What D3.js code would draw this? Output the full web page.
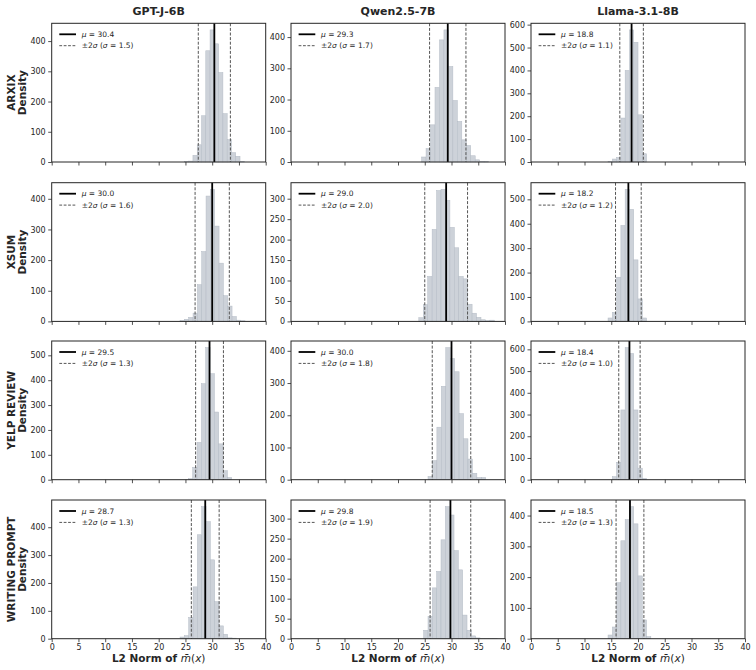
<!DOCTYPE html>
<html>
<head>
<meta charset="utf-8">
<script src="https://cdnjs.cloudflare.com/ajax/libs/d3/7.8.5/d3.min.js"></script>
<style>
  body { margin: 0; background: #fff; }
  svg { font-family: "DejaVu Sans", sans-serif; }
</style>
</head>
<body>
<svg id="chart" width="756" height="670"></svg>
<script>
// columns = models, rows = datasets
const models = ["GPT-J-6B", "Qwen2.5-7B", "Llama-3.1-8B"];
const datasets = ["ARXIX", "XSUM", "YELP REVIEW", "WRITING PROMPT"];

const means = [
  [30.4, 29.3, 18.8],
  [30.0, 29.0, 18.2],
  [29.5, 30.0, 18.4],
  [28.7, 29.8, 18.5]
];
const sigmas = [
  [1.5, 1.7, 1.1],
  [1.6, 2.0, 1.2],
  [1.3, 1.8, 1.0],
  [1.3, 1.9, 1.3]
];

// histogram bins: left edge of the first bin and bin width, per panel
const binStart = [
  [24.8, 24.41, 14.4],
  [23.99, 23.89, 14.4],
  [25.55, 25.61, 15.2],
  [23.99, 24.8, 14.4]
];
const binWidth = [
  [0.8, 0.835, 0.8],
  [0.81, 0.83, 0.8],
  [0.81, 0.83, 0.8],
  [0.81, 0.81, 0.8]
];
const binCounts = [
  [
    [1, 3, 22, 57, 153, 368, 437, 391, 296, 160, 74, 31, 19, 2],
    [16, 43, 119, 239, 391, 423, 306, 197, 130, 71, 53, 20, 7, 2, 1],
    [2, 13, 20, 192, 400, 577, 523, 206, 36]
  ],
  [
    [3, 7, 13, 27, 120, 228, 409, 431, 311, 190, 84, 50, 16, 4, 2],
    [9, 41, 110, 225, 320, 323, 296, 230, 180, 110, 104, 42, 20, 10, 4, 2, 3],
    [14, 37, 181, 393, 541, 459, 252, 92, 14]
  ],
  [
    [4, 50, 150, 386, 531, 426, 272, 144, 36, 9],
    [10, 59, 163, 290, 410, 376, 335, 205, 127, 64, 20, 7, 7],
    [14, 80, 321, 608, 581, 321, 53, 6]
  ],
  [
    [6, 11, 76, 186, 373, 474, 420, 283, 133, 46, 16, 3, 2],
    [21, 56, 127, 168, 247, 330, 309, 220, 172, 59, 21, 7, 2, 1, 1, 1, 1],
    [12, 38, 182, 318, 387, 429, 373, 204, 61, 7]
  ]
];

const xTicks = [0, 5, 10, 15, 20, 25, 30, 35, 40];
const yTickStep = [
  [100, 100, 100],
  [100, 50, 100],
  [100, 100, 100],
  [100, 50, 100]
];

const svg = d3.select("#chart");
const colX = [51.7, 291, 531];
const rowTop = [23.3, 182.7, 341, 500];
const panelW = 214, panelH = 138.7;
const ink = "#262626";
const barFill = "#cdd2d9", barEdge = "#b4bbc5";

models.forEach((m, c) => {
  svg.append("text")
    .attr("x", colX[c] + panelW / 2).attr("y", 15.3)
    .attr("text-anchor", "middle")
    .attr("font-size", 11).attr("font-weight", "bold").attr("fill", ink)
    .text(m);
});

datasets.forEach((ds, r) => {
  // row label (two lines, rotated)
  const lab = svg.append("text")
    .attr("transform", `translate(15,${rowTop[r] + panelH / 2}) rotate(-90)`)
    .attr("text-anchor", "middle")
    .attr("font-size", 10.5).attr("font-weight", "bold").attr("fill", ink);
  lab.append("tspan").attr("x", 0).attr("dy", 0).text(ds);
  lab.append("tspan").attr("x", 0).attr("dy", 11).text("Density");

  models.forEach((m, c) => {
    const g = svg.append("g").attr("transform", `translate(${colX[c]},${rowTop[r]})`);
    const counts = binCounts[r][c];
    const x = d3.scaleLinear().domain([0, 40]).range([0, panelW]);
    const y = d3.scaleLinear().domain([0, d3.max(counts) * 1.05]).range([panelH, 0]);

    const bins = counts.map((v, i) => ({
      x0: binStart[r][c] + i * binWidth[r][c],
      x1: binStart[r][c] + (i + 1) * binWidth[r][c],
      v: v
    }));

    g.selectAll("rect.bar").data(bins).join("rect")
      .attr("class", "bar")
      .attr("x", d => x(d.x0))
      .attr("width", d => x(d.x1) - x(d.x0))
      .attr("y", d => y(d.v))
      .attr("height", d => panelH - y(d.v))
      .attr("fill", barFill)
      .attr("stroke", barEdge)
      .attr("stroke-width", 0.5);

    const mu = means[r][c], sd = sigmas[r][c];
    [mu - 2 * sd, mu + 2 * sd].forEach(v => {
      g.append("line")
        .attr("x1", x(v)).attr("x2", x(v))
        .attr("y1", 0).attr("y2", panelH)
        .attr("stroke", "#555").attr("stroke-width", 1)
        .attr("stroke-dasharray", "3,1.6");
    });
    g.append("line")
      .attr("x1", x(mu)).attr("x2", x(mu))
      .attr("y1", 0).attr("y2", panelH)
      .attr("stroke", "#000").attr("stroke-width", 1.8);

    // axes
    const yAxis = d3.axisLeft(y)
      .tickValues(d3.range(0, y.domain()[1], yTickStep[r][c]))
      .tickSize(3.5).tickPadding(2.5);
    const ya = g.append("g").call(yAxis);
    const xAxis = d3.axisBottom(x)
      .tickValues(xTicks).tickSize(3.5).tickPadding(2.5)
      .tickFormat(r === datasets.length - 1 ? d3.format("d") : () => "");
    const xa = g.append("g").attr("transform", `translate(0,${panelH})`).call(xAxis);
    [ya, xa].forEach(a => {
      a.select(".domain").remove();
      a.selectAll(".tick line").attr("stroke", ink).attr("stroke-width", 0.8);
      a.selectAll(".tick text").attr("fill", ink).attr("font-size", 8)
        .attr("font-family", "DejaVu Sans, sans-serif");
    });

    g.append("rect")
      .attr("width", panelW).attr("height", panelH)
      .attr("fill", "none").attr("stroke", ink).attr("stroke-width", 1);

    // legend
    const lg = g.append("g").attr("transform", "translate(7.6,11)");
    lg.append("line").attr("x1", 0).attr("x2", 16.7).attr("y1", 0).attr("y2", 0)
      .attr("stroke", "#000").attr("stroke-width", 1.8);
    lg.append("line").attr("x1", 0).attr("x2", 16.7).attr("y1", 11.4).attr("y2", 11.4)
      .attr("stroke", "#555").attr("stroke-width", 1).attr("stroke-dasharray", "2.8,1.6");
    const t1 = lg.append("text").attr("x", 22.4).attr("y", 0).attr("dy", "0.35em")
      .attr("font-size", 7.5).attr("fill", ink);
    t1.append("tspan").attr("font-style", "italic").text("μ");
    t1.append("tspan").text(" = " + mu.toFixed(1));
    const t2 = lg.append("text").attr("x", 22.4).attr("y", 11.4).attr("dy", "0.35em")
      .attr("font-size", 7.5).attr("fill", ink);
    t2.append("tspan").text("±2");
    t2.append("tspan").attr("font-style", "italic").text("σ");
    t2.append("tspan").text(" (");
    t2.append("tspan").attr("font-style", "italic").text("σ");
    t2.append("tspan").text(" = " + sd.toFixed(1) + ")");

    if (r === datasets.length - 1) {
      const xl = svg.append("text")
        .attr("x", colX[c] + panelW / 2).attr("y", 662)
        .attr("text-anchor", "middle").attr("font-size", 10.5).attr("fill", ink);
      xl.append("tspan").attr("font-weight", "bold").text("L2 Norm of ");
      xl.append("tspan").attr("font-style", "italic").text("m\u0304");
      xl.append("tspan").text("(");
      xl.append("tspan").attr("font-style", "italic").text("x");
      xl.append("tspan").text(")");
    }
  });
});
</script>
</body>
</html>
